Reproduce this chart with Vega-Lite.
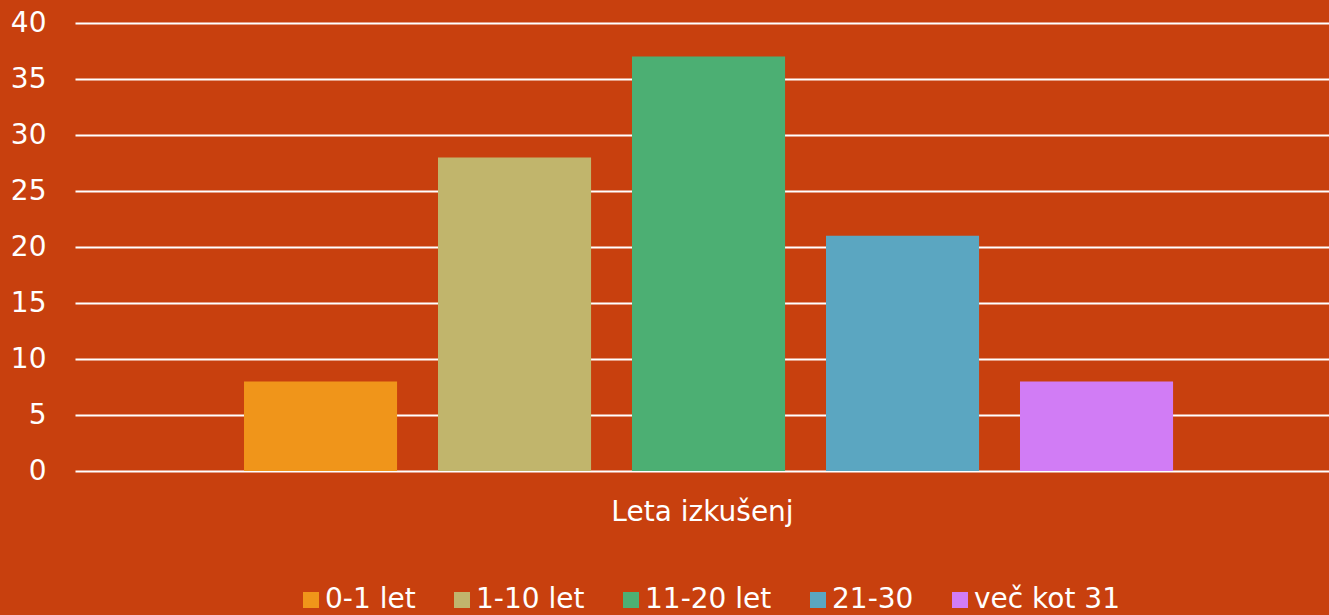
{
  "$schema": "https://vega.github.io/schema/vega-lite/v6.json",
  "width": 1254,
  "height": 448,
  "autosize": {"type": "none"},
  "padding": {"left": 75, "top": 23, "right": 0, "bottom": 144},
  "background": "#C8400E",
  "data": {
    "values": [
      {"kategorija": "Leta izkušenj", "skupina": "0-1 let", "vrednost": 8},
      {"kategorija": "Leta izkušenj", "skupina": "1-10 let", "vrednost": 28},
      {"kategorija": "Leta izkušenj", "skupina": "11-20 let", "vrednost": 37},
      {"kategorija": "Leta izkušenj", "skupina": "21-30", "vrednost": 21},
      {"kategorija": "Leta izkušenj", "skupina": "več kot 31", "vrednost": 8}
    ]
  },
  "mark": {"type": "bar"},
  "encoding": {
    "x": {
      "field": "kategorija",
      "type": "nominal",
      "scale": {"paddingInner": 0, "paddingOuter": 0.1464, "align": 0.523},
      "axis": {
        "title": "Leta izkušenj",
        "labels": false,
        "ticks": false,
        "domain": false,
        "grid": false,
        "titlePadding": 27
      }
    },
    "xOffset": {
      "field": "skupina",
      "type": "nominal",
      "sort": ["0-1 let", "1-10 let", "11-20 let", "21-30", "več kot 31"],
      "scale": {"paddingInner": 0.211, "paddingOuter": 0.1055}
    },
    "y": {
      "field": "vrednost",
      "type": "quantitative",
      "scale": {"domain": [0, 40], "nice": false},
      "axis": {
        "title": null,
        "values": [0, 5, 10, 15, 20, 25, 30, 35, 40],
        "domain": false,
        "ticks": false,
        "labelPadding": 29,
        "grid": true
      }
    },
    "color": {
      "field": "skupina",
      "type": "nominal",
      "scale": {
        "domain": ["0-1 let", "1-10 let", "11-20 let", "21-30", "več kot 31"],
        "range": ["#F0951A", "#C1B56C", "#4CAF73", "#5BA6C1", "#D17CF5"]
      },
      "legend": {
        "title": null,
        "orient": "none",
        "direction": "horizontal",
        "legendX": 222,
        "legendY": 563
      }
    }
  },
  "config": {
    "view": {"stroke": null},
    "font": "DejaVu Sans",
    "axis": {
      "labelColor": "#FFFFFF",
      "labelFont": "DejaVu Sans",
      "labelFontSize": 28,
      "titleColor": "#FFFFFF",
      "titleFont": "DejaVu Sans",
      "titleFontSize": 28,
      "titleFontWeight": "normal",
      "gridColor": "#FFFFFF",
      "gridWidth": 2,
      "gridOpacity": 1
    },
    "legend": {
      "labelColor": "#FFFFFF",
      "labelFont": "DejaVu Sans",
      "labelFontSize": 28,
      "labelLimit": 400,
      "symbolType": "square",
      "symbolSize": 256,
      "symbolStrokeWidth": 0,
      "symbolOpacity": 1,
      "labelOffset": 0,
      "columnPadding": 32
    }
  }
}
